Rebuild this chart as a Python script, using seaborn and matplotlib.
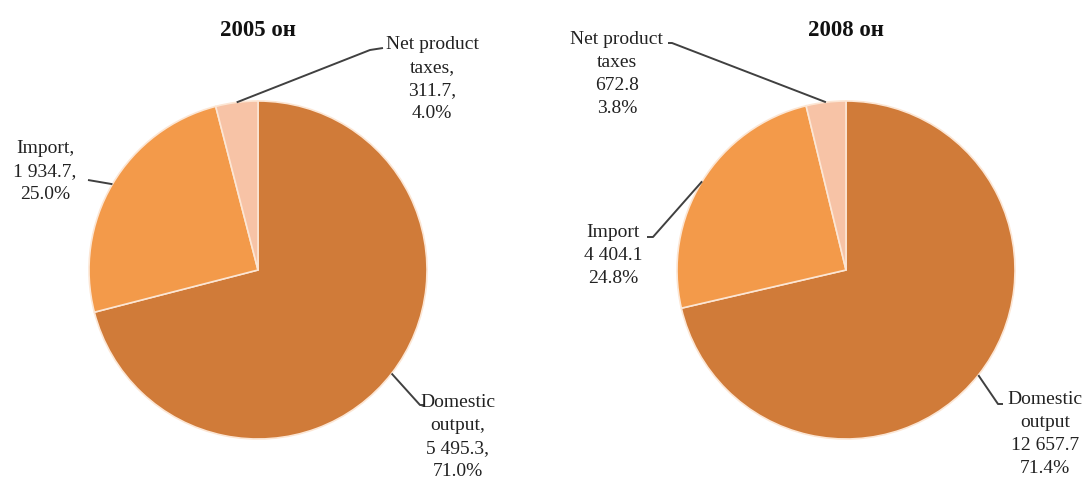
import numpy as np
import matplotlib
matplotlib.use("Agg")
import matplotlib.pyplot as plt
import seaborn as sns

# data
years = ["2005 он", "2008 он"]
categories = ["Domestic output", "Import", "Net product taxes"]
values_2005 = [5495.3, 1934.7, 311.7]
values_2008 = [12657.7, 4404.1, 672.8]
shares_2005 = [71.0, 25.0, 4.0]
shares_2008 = [71.4, 24.8, 3.8]
labels_2005 = ["Domestic\noutput,\n5 495.3,\n71.0%", "Import,\n1 934.7,\n25.0%",
               "Net product\ntaxes,\n311.7,\n4.0%"]
labels_2008 = ["Domestic\noutput\n12 657.7\n71.4%", "Import\n4 404.1\n24.8%",
               "Net product\ntaxes\n672.8\n3.8%"]

colors = ["#D07B39", "#F39A4A", "#F7C3A6"]

sns.set_theme(style="white")
plt.rcParams['font.family'] = ['Liberation Serif', 'DejaVu Serif']

W, H = 1086, 487
fig = plt.figure(figsize=(W / 100, H / 100), dpi=100)
ax = fig.add_axes([0, 0, 1, 1])

R = 169
centers = [(258, H - 270), (846, H - 270)]

# label layout in image pixels (text centre x, text top y, leader elbow points)
layouts = [
    [  # 2005
        dict(xy=(458, 394), path=[(420, 405), (425, 405)]),
        dict(xy=(45, 140), path=[(88, 180)]),
        dict(xy=(432, 36), path=[(370, 50), (383, 48)]),
    ],
    [  # 2008
        dict(xy=(1045, 391), path=[(998, 404), (1003, 404)]),
        dict(xy=(613, 224), path=[(653, 237), (647, 237)]),
        dict(xy=(617, 31), path=[(672, 43), (668, 43)]),
    ],
]

for k, (vals, labs) in enumerate([(values_2005, labels_2005), (values_2008, labels_2008)]):
    cx, cy = centers[k]
    wedges, _ = ax.pie(vals, colors=colors, startangle=90, counterclock=False,
                       center=(cx, cy), radius=R,
                       wedgeprops=dict(edgecolor="#FCE6D4", linewidth=1.2))
    ax.text(cx, H - 30, years[k], ha="center", va="center", fontsize=16.5,
            fontweight="bold", color="#111111")
    for w, lab, lay in zip(wedges, labs, layouts[k]):
        ang = np.deg2rad((w.theta1 + w.theta2) / 2)
        px = cx + R * np.cos(ang)
        py = cy + R * np.sin(ang)
        xs = [px] + [p[0] for p in lay["path"]]
        ys = [py] + [H - p[1] for p in lay["path"]]
        ax.plot(xs, ys, color="#404040", lw=1.4, solid_capstyle="butt")
        ax.text(lay["xy"][0], H - lay["xy"][1], lab, ha="center", va="top",
                fontsize=14, linespacing=1.45, color="#222222")

ax.set_xlim(0, W)
ax.set_ylim(0, H)
ax.set_aspect("equal")
ax.axis("off")

fig.savefig("out.png", dpi=100)
